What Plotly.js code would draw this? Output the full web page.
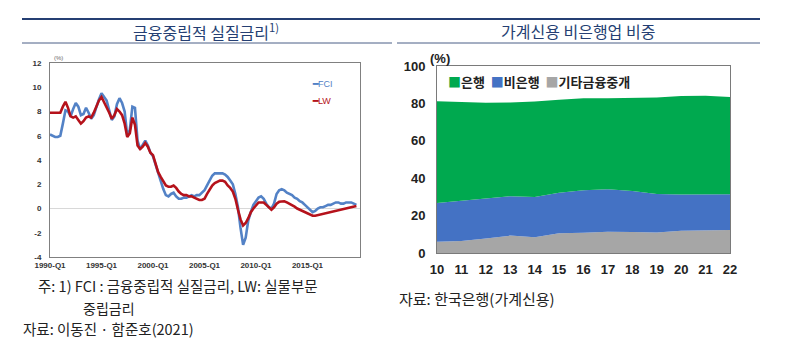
<!DOCTYPE html>
<html>
<head>
<meta charset="utf-8">
<script src="https://cdn.plot.ly/plotly-3.0.1.min.js"></script>
<style>html,body{margin:0;padding:0;background:#fff;}#chart{width:800px;height:354px;}</style>
</head>
<body>
<div id="chart"></div>
<script>
// ---- Left chart: 금융중립적 실질금리 (quarterly, 1990-Q1 .. 2019-Q4)
var startYear = 1990;
var quarterLabels = [];
for (var yr = startYear; yr < 2020; yr++) { for (var qq = 1; qq <= 4; qq++) quarterLabels.push(yr + '-Q' + qq); }
var leftTicks = ['1990-Q1', '1995-Q1', '2000-Q1', '2005-Q1', '2010-Q1', '2015-Q1'];
var leftYTicks = [-4, -2, 0, 2, 4, 6, 8, 10, 12];
var leftYText = ['-4', '-2', '0', '2', '4', '6', '8', '10', '12'];

var fci = [
 6.1, 6.0, 5.9, 5.9, 6.0, 7.0, 8.1, 8.0, 7.6, 8.2,
 8.7, 8.4, 7.7, 7.8, 8.3, 7.9, 7.4, 7.7, 8.4, 9.0,
 9.5, 9.2, 8.9, 8.1, 7.3, 7.6, 8.6, 9.1, 8.7, 8.0,
 6.0, 6.5, 8.4, 8.3, 5.6, 4.9, 5.3, 5.6, 5.2, 4.6,
 4.3, 3.6, 2.9, 2.2, 1.6, 1.1, 1.0, 1.2, 1.3, 1.0,
 0.8, 0.8, 0.9, 0.9, 1.0, 1.1, 1.0, 1.1, 1.1, 1.3,
 1.5, 1.9, 2.3, 2.7, 2.9, 2.9, 2.9, 2.9, 2.8, 2.6,
 2.3, 2.0, 1.2, 0.1, -1.6, -3.0, -2.4, -1.0, -0.3, 0.3,
 0.6, 0.9, 1.0, 0.8, 0.4, 0.1, 0.0, 0.4, 1.2, 1.5,
 1.6, 1.5, 1.3, 1.2, 1.1, 0.9, 0.8, 0.6, 0.5, 0.3,
 0.1, -0.1, -0.3, -0.2, 0.0, 0.1, 0.1, 0.2, 0.3, 0.3,
 0.4, 0.5, 0.5, 0.4, 0.4, 0.5, 0.5, 0.5, 0.4, 0.3
];
var lw = [
 7.9, 7.9, 7.9, 7.85, 7.9, 8.4, 8.8, 8.3, 7.6, 7.5,
 7.6, 7.3, 7.0, 7.2, 7.5, 7.6, 7.5, 7.9, 8.4, 8.9,
 9.2, 8.8, 8.4, 7.9, 7.4, 7.7, 8.2, 8.0, 7.7, 7.0,
 5.9, 6.2, 7.5, 6.9, 5.2, 4.9, 5.1, 5.4, 5.1, 4.6,
 4.4, 3.7, 3.0, 2.6, 2.2, 1.9, 1.8, 1.8, 1.9, 1.7,
 1.4, 1.2, 1.1, 1.1, 1.0, 1.0, 0.9, 0.8, 0.7, 0.7,
 0.8, 1.2, 1.6, 1.9, 2.1, 2.2, 2.3, 2.3, 2.2, 1.9,
 1.7, 1.4, 0.8, -0.1, -0.9, -1.4, -1.2, -0.8, -0.3, 0.0,
 0.3, 0.5, 0.5, 0.5, 0.3, 0.1, -0.1, 0.1, 0.4, 0.55,
 0.6, 0.6, 0.5, 0.4, 0.3, 0.15, 0.0, -0.1, -0.2, -0.3,
 -0.45, -0.5, -0.6, -0.6, -0.55, -0.5, -0.45, -0.4, -0.35, -0.3,
 -0.3, -0.25, -0.2, -0.15, -0.1, -0.05, 0.0, 0.1, 0.15, 0.2
];

// ---- Right chart: 가계신용 비은행업 비중 (%, stacked)
var years = [10, 11, 12, 13, 14, 15, 16, 17, 18, 19, 20, 21, 22];
var otherFin = [6.0, 6.4, 7.8, 9.3, 8.4, 10.5, 10.8, 11.4, 11.2, 11.0, 11.9, 12.3, 12.3];
var nonBank  = [20.8, 21.5, 21.2, 21.1, 21.6, 21.7, 22.8, 22.7, 21.9, 20.6, 19.4, 19.1, 19.1];
var bank     = [54.4, 52.8, 51.4, 50.1, 51.0, 49.8, 49.1, 48.7, 49.9, 51.6, 52.6, 52.7, 52.0];

var W = 800, H = 354;
function px(x) { return x / W; }
function py(y) { return 1 - y / H; }

var cFCI = '#5382c6', cLW = '#b5121b';
var cBank = '#00a94f', cNon = '#4472c4', cOther = '#a6a6a6';
var navy = '#253f73';
var kr = '"Noto Sans CJK KR", "Noto Sans", sans-serif';
var num = '"Liberation Sans", Arial, sans-serif';

var traces = [
  {x: quarterLabels, y: fci, type: 'scatter', mode: 'lines', name: 'FCI', xaxis: 'x', yaxis: 'y',
   line: {color: cFCI, width: 2.6}, showlegend: false},
  {x: quarterLabels, y: lw, type: 'scatter', mode: 'lines', name: 'LW', xaxis: 'x', yaxis: 'y',
   line: {color: cLW, width: 2.6}, showlegend: false},
  {x: years, y: otherFin, type: 'scatter', mode: 'lines', stackgroup: 'a', name: '기타금융중개', xaxis: 'x2', yaxis: 'y2',
   line: {width: 0, color: cOther}, fillcolor: cOther, showlegend: false},
  {x: years, y: nonBank, type: 'scatter', mode: 'lines', stackgroup: 'a', name: '비은행', xaxis: 'x2', yaxis: 'y2',
   line: {width: 0, color: cNon}, fillcolor: cNon, showlegend: false},
  {x: years, y: bank, type: 'scatter', mode: 'lines', stackgroup: 'a', name: '은행', xaxis: 'x2', yaxis: 'y2',
   line: {width: 0, color: cBank}, fillcolor: cBank, showlegend: false}
];

var layout = {
  width: W, height: H,
  margin: {l: 0, r: 0, t: 0, b: 0},
  paper_bgcolor: '#fff', plot_bgcolor: '#fff',
  showlegend: false,
  xaxis: {
    domain: [px(50), px(360)], anchor: 'y', type: 'category',
    range: [0, 120.4], tickvals: leftTicks, ticktext: leftTicks,
    showgrid: false, zeroline: false, showline: true, mirror: true,
    linecolor: '#808080', linewidth: 1, ticks: '',
    tickfont: {family: num, size: 8, color: '#333', weight: 'bold'}
  },
  yaxis: {
    domain: [py(257), py(63)], anchor: 'x',
    range: [-4, 12], tickvals: leftYTicks, ticktext: leftYText,
    showgrid: false, zeroline: true, zerolinecolor: '#d8d8d8', zerolinewidth: 1,
    showline: true, mirror: true, linecolor: '#808080', linewidth: 1, ticks: '',
    ticklabelstandoff: 6,
    tickfont: {family: num, size: 8, color: '#333', weight: 'bold'}
  },
  xaxis2: {
    domain: [px(437), px(730)], anchor: 'y2',
    range: [10, 22], dtick: 1, tick0: 10,
    showgrid: false, zeroline: false, showline: true, mirror: true,
    linecolor: '#7a7a7a', linewidth: 1, ticks: '',
    ticklabelstandoff: 4,
    tickfont: {family: num, size: 13, color: '#222', weight: 'bold'}
  },
  yaxis2: {
    domain: [py(253), py(66)], anchor: 'x2',
    range: [0, 100], dtick: 20, tick0: 0,
    showgrid: false, zeroline: false, showline: true, mirror: true,
    linecolor: '#7a7a7a', linewidth: 1, ticks: '',
    ticklabelstandoff: 8,
    tickfont: {family: num, size: 13, color: '#222', weight: 'bold'}
  },
  shapes: [
    {type: 'line', xref: 'paper', yref: 'paper', x0: px(22), x1: px(760), y0: py(19), y1: py(19), line: {color: navy, width: 2}},
    {type: 'line', xref: 'paper', yref: 'paper', x0: px(22), x1: px(392), y0: py(43), y1: py(43), line: {color: '#4a5f86', width: 1}},
    {type: 'line', xref: 'paper', yref: 'paper', x0: px(397), x1: px(760), y0: py(43), y1: py(43), line: {color: '#4a5f86', width: 1}}
  ],
  annotations: [
    {xref: 'paper', yref: 'paper', x: px(206), y: py(31), xanchor: 'center', yanchor: 'middle', showarrow: false,
     text: '금융중립적 실질금리<sup>1)</sup>', font: {family: kr, size: 16, color: navy}},
    {xref: 'paper', yref: 'paper', x: px(578), y: py(31), xanchor: 'center', yanchor: 'middle', showarrow: false,
     text: '가계신용 비은행업 비중', font: {family: kr, size: 16, color: navy}},
    {xref: 'paper', yref: 'paper', x: px(52), y: py(58), xanchor: 'left', yanchor: 'middle', showarrow: false,
     text: '(%)', font: {family: num, size: 6, color: '#666'}},
    {xref: 'paper', yref: 'paper', x: px(310), y: py(84), xanchor: 'left', yanchor: 'middle', showarrow: false,
     text: '<span style="color:' + cFCI + '"><b>━</b>FCI</span>', font: {family: num, size: 9, color: cFCI}},
    {xref: 'paper', yref: 'paper', x: px(310), y: py(101), xanchor: 'left', yanchor: 'middle', showarrow: false,
     text: '<span style="color:' + cLW + '"><b>━</b>LW</span>', font: {family: num, size: 9, color: cLW}},
    {xref: 'paper', yref: 'paper', x: px(428), y: py(59), xanchor: 'left', yanchor: 'middle', showarrow: false,
     text: '<b>(%)</b>', font: {family: num, size: 13, color: '#222'}},
    {xref: 'paper', yref: 'paper', x: px(446), y: py(81), xanchor: 'left', yanchor: 'middle', showarrow: false,
     text: '<span style="color:' + cBank + '">■</span><b>은행</b>  <span style="color:' + cNon + '">■</span><b>비은행</b>  <span style="color:' + cOther + '">■</span><b>기타금융중개</b>',
     font: {family: kr, size: 13, color: '#222'}},
    {xref: 'paper', yref: 'paper', x: px(36), y: py(285.5), xanchor: 'left', yanchor: 'middle', showarrow: false,
     text: '주: 1) FCI : 금융중립적 실질금리, LW: 실물부문', font: {family: kr, size: 14.5, color: '#222'}},
    {xref: 'paper', yref: 'paper', x: px(81), y: py(307.5), xanchor: 'left', yanchor: 'middle', showarrow: false,
     text: '중립금리', font: {family: kr, size: 14, color: '#222'}},
    {xref: 'paper', yref: 'paper', x: px(21), y: py(328.5), xanchor: 'left', yanchor: 'middle', showarrow: false,
     text: '자료: 이동진 · 함준호(2021)', font: {family: kr, size: 14.5, color: '#222'}},
    {xref: 'paper', yref: 'paper', x: px(397), y: py(298), xanchor: 'left', yanchor: 'middle', showarrow: false,
     text: '자료: 한국은행(가계신용)', font: {family: kr, size: 15, color: '#222'}}
  ]
};

Plotly.newPlot('chart', traces, layout, {staticPlot: true, displayModeBar: false});
</script>
</body>
</html>
